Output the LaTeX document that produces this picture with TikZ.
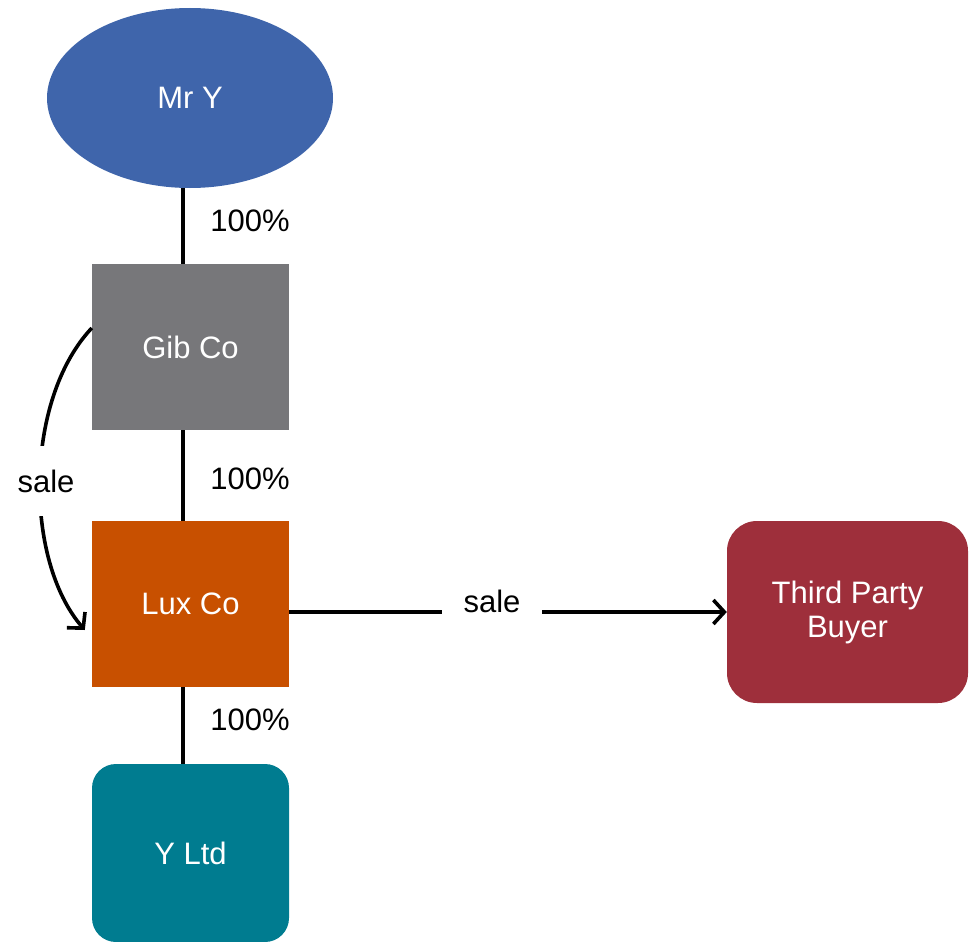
\documentclass[tikz,border=0pt]{standalone}
\usepackage{fontspec}
\setmainfont{Liberation Sans}
\usetikzlibrary{shapes.geometric,arrows.meta}
\definecolor{owner}{HTML}{3F65AB}
\definecolor{gibgray}{HTML}{77777A}
\definecolor{luxorange}{HTML}{C85000}
\definecolor{ylteal}{HTML}{007C90}
\definecolor{buyerred}{HTML}{9E2F3B}
\tikzset{
  entity/.style={inner sep=0pt, text=white, align=center,
    font=\fontsize{31}{34}\selectfont},
  square/.style={entity, rectangle, minimum width=197pt, minimum height=166pt},
  link/.style={line width=3.6pt, black},
  flow/.style={line width=3.6pt, black, -{Straight Barb[length=11pt,width=24pt,line width=3.6pt]}},
  pct/.style={font=\fontsize{31}{34}\selectfont, inner sep=0pt},
  flowlabel/.style={font=\fontsize{31}{34}\selectfont, fill=white, inner sep=2pt}
}
\begin{document}
\begin{tikzpicture}[x=1pt,y=-1pt]
  \useasboundingbox (0,0) rectangle (969,942);
  % entities
  \node[entity, ellipse, fill=owner, minimum width=286pt, minimum height=180pt] (mry) at (190,98) {Mr Y};
  \node[square, fill=gibgray] (gib) at (190.5,347) {Gib Co};
  \node[square, fill=luxorange] (lux) at (190.5,604) {Lux Co};
  \node[square, fill=ylteal, rounded corners=24pt, minimum height=178pt] (yltd) at (190.5,853) {Y Ltd};
  \node[entity, rectangle, fill=buyerred, rounded corners=30pt, minimum width=241pt, minimum height=182pt] (buyer) at (847.5,612) {Third Party\\Buyer};
  % ownership links
  \draw[link] ([xshift=-7pt]mry.south) -- ([xshift=-7.5pt]gib.north);
  \draw[link] ([xshift=-7.5pt]gib.south) -- ([xshift=-7.5pt]lux.north);
  \draw[link] ([xshift=-7.5pt]lux.south) -- ([xshift=-7.5pt]yltd.north);
  \node[pct] (p1) at (250,221) {100\%};
  \node[pct] (p2) at (250,479) {100\%};
  \node[pct] (p3) at (250,720) {100\%};
  % sales
  \coordinate (gibout) at ([yshift=19pt]gib.west);
  \coordinate (luxin) at ([xshift=-7pt,yshift=-26pt]lux.west);
  \draw[flow] (gibout) .. controls (24,400) and (24,560) .. (luxin);
  \node[flowlabel, inner ysep=24pt] (s1) at (46,481) {sale};
  \draw[flow] ([yshift=-8pt]lux.east) -- (buyer.west);
  \node[flowlabel, inner xsep=22pt, inner ysep=16pt] (s2) at (492,601) {sale};
\end{tikzpicture}
\end{document}
